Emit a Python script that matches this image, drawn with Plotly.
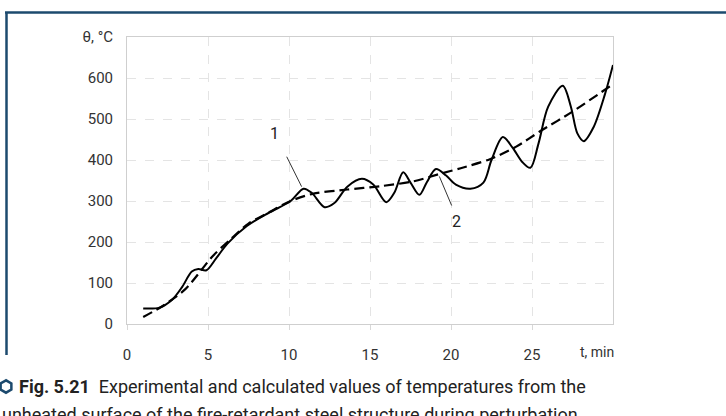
import math
import plotly.graph_objects as go

# ---- data ----
t_exp = [1.0, 2.0, 2.8, 3.4, 4.0, 4.4, 4.9, 5.5, 6.2, 7.4, 8.8, 10.1, 10.9, 11.4, 12.2, 12.8,
         13.6, 14.5, 15.2, 16.0, 16.5, 17.05, 17.5, 18.05, 18.5, 19.07, 19.7, 20.3, 21.2, 22.0,
         22.5, 23.2, 23.8, 24.4, 24.9, 25.4, 26.0, 26.9, 27.4, 27.8, 28.2, 28.8, 29.5, 30.0]
theta_exp = [38, 40, 60, 90, 128, 134, 131, 160, 196, 239, 272, 300, 330, 320, 285, 295,
             335, 354, 340, 297, 320, 370, 345, 315, 345, 378, 362, 340, 330, 345,
             400, 456, 430, 395, 381, 440, 530, 581, 530, 465, 446, 480, 560, 632]

t_calc = [1.0, 2.2, 3.6, 5.3, 6.4, 7.5, 8.8, 10.1, 11.5, 13.6, 15.6, 17.7, 19.3, 20.6,
          22.4, 24.0, 25.5, 27.5, 30.0]
theta_calc = [17, 44, 85, 166, 207, 245, 273, 300, 318, 328, 336, 348, 366, 380,
              402, 432, 470, 518, 585]

x_ticks = [0, 5, 10, 15, 20, 25]
x_ticktext = ["0", "5", "10", "15", "20", "25"]
y_ticks = [0, 100, 200, 300, 400, 500, 600, 700]
y_ticktext = ["0", "100", "200", "300", "400", "500", "600", "θ, °C"]

label_1 = {"text": "1", "pos": (9.1, 465), "line": ((9.86, 408), (10.78, 335))}
label_2 = {"text": "2", "pos": (20.34, 249), "line": ((19.28, 360), (20.04, 289))}

caption_1 = "<b>Fig. 5.21</b>  Experimental and calculated values of temperatures from the"
caption_2 = "unheated surface of the fire-retardant steel structure during perturbation"

# ---- layout geometry ----
W, H = 726, 416
L, R, T, B = 127, 613, 37, 324
FONT = "Roboto, Liberation Sans, sans-serif"
NAVY = "#1c4a6e"


def px(x):
    return (x - L) / (R - L)


def py(y):
    return (B - y) / (B - T)


fig = go.Figure()
fig.add_trace(go.Scatter(x=t_exp, y=theta_exp, mode="lines",
                         line=dict(color="black", width=2, shape="spline", smoothing=0.9),
                         showlegend=False, hoverinfo="skip"))
fig.add_trace(go.Scatter(x=t_calc, y=theta_calc, mode="lines",
                         line=dict(color="black", width=2.2, dash="10px,5px", shape="spline", smoothing=0.8),
                         showlegend=False, hoverinfo="skip"))

shapes = []
for lab in (label_1, label_2):
    (x0, y0), (x1, y1) = lab["line"]
    shapes.append(dict(type="line", xref="x", yref="y", x0=x0, y0=y0, x1=x1, y1=y1,
                       line=dict(color="#333333", width=1)))
shapes.append(dict(type="line", xref="paper", yref="paper", x0=px(5), x1=px(726),
                   y0=py(12.5), y1=py(12.5), line=dict(color=NAVY, width=2.5)))
shapes.append(dict(type="line", xref="paper", yref="paper", x0=px(6.5), x1=px(6.5),
                   y0=py(12), y1=py(355), line=dict(color=NAVY, width=2.5)))
hx, hy, hr = 6, 386.5, 6.2
pts = []
for k in range(6):
    a = math.radians(90 + 60 * k)
    pts.append((hx + hr * math.cos(a), hy - hr * math.sin(a)))
path = "M " + " L ".join(f"{px(a):.5f},{py(b):.5f}" for a, b in pts) + " Z"
shapes.append(dict(type="path", xref="paper", yref="paper", path=path,
                   line=dict(color=NAVY, width=2.5)))

annotations = []
for lab in (label_1, label_2):
    annotations.append(dict(x=lab["pos"][0], y=lab["pos"][1], xref="x", yref="y", text=lab["text"],
                            showarrow=False, font=dict(family=FONT, size=16, color="#222")))
annotations.append(dict(x=px(616), y=py(352), xref="paper", yref="paper", text="t, min",
                        xanchor="right", yanchor="middle", showarrow=False,
                        font=dict(family=FONT, size=14, color="#333")))
annotations.append(dict(x=px(17), y=py(386), xref="paper", yref="paper", text=caption_1,
                        xanchor="left", yanchor="middle", showarrow=False,
                        font=dict(family=FONT, size=18, color="#222")))
annotations.append(dict(x=px(0), y=py(414), xref="paper", yref="paper", text=caption_2,
                        xanchor="left", yanchor="middle", showarrow=False,
                        font=dict(family=FONT, size=18, color="#222")))

fig.update_layout(
    width=W, height=H,
    margin=dict(l=L, r=W - R, t=T, b=H - B),
    paper_bgcolor="white", plot_bgcolor="white",
    shapes=shapes, annotations=annotations,
    font=dict(family=FONT, size=15, color="#333"),
)
fig.update_xaxes(range=[0, 30], tickvals=x_ticks, ticktext=x_ticktext,
                 showgrid=True, gridcolor="#e4e4e4", griddash="dash", gridwidth=1,
                 showline=True, linecolor="#cfcfcf", linewidth=1, mirror=True,
                 ticks="outside", ticklen=5, tickcolor="#d8d8d8", ticklabelstandoff=12,
                 zeroline=False, tickfont=dict(family=FONT, size=15, color="#333"))
fig.update_yaxes(range=[0, 700], tickvals=y_ticks, ticktext=y_ticktext,
                 showgrid=True, gridcolor="#e4e4e4", griddash="dash", gridwidth=1,
                 showline=True, linecolor="#cfcfcf", linewidth=1, mirror=True,
                 ticks="", ticklabelstandoff=10,
                 zeroline=False, tickfont=dict(family=FONT, size=15, color="#333"))

fig.write_html("out.html", config={"displayModeBar": False},
               post_script="document.body.style.margin='0px';")
